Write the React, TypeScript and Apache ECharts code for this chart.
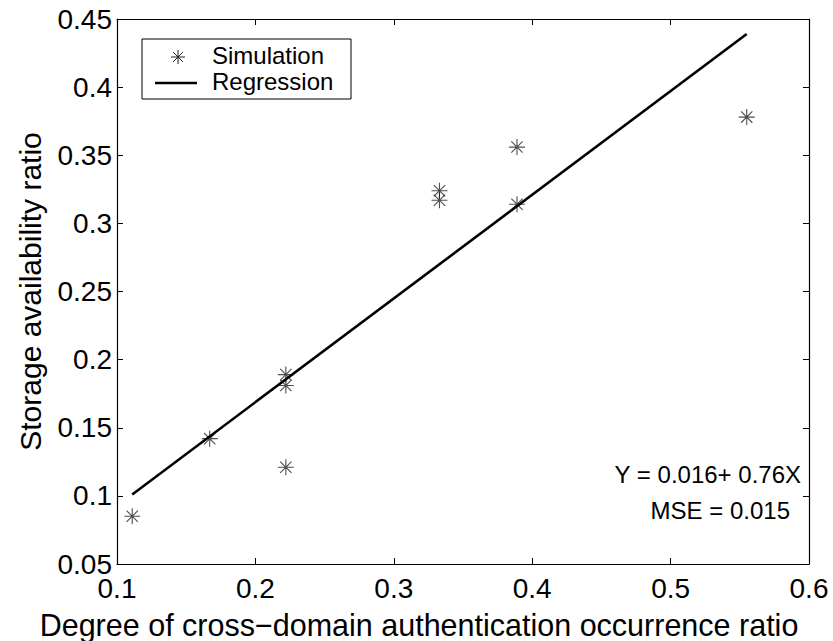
import React, { useEffect, useRef } from "react";
import * as echarts from "echarts";

const FONT = "'Liberation Sans', Arial, Helvetica, sans-serif";

// Simulation points (x, y)
const simX = [0.111, 0.167, 0.222, 0.222, 0.222, 0.333, 0.333, 0.389, 0.389, 0.555];
const simY = [0.085, 0.142, 0.189, 0.181, 0.121, 0.324, 0.317, 0.356, 0.314, 0.378];

// Regression line end points
const regX = [0.111, 0.555];
const regY = [0.101, 0.439];

const xTicks = { min: 0.1, max: 0.6, interval: 0.1 };
const yTicks = { min: 0.05, max: 0.45, interval: 0.05 };

const legendLabels = ["Simulation", "Regression"];
const annotations = ["Y = 0.016+ 0.76X", "MSE = 0.015"];
const xTitle = "Degree of cross\u2212domain authentication occurrence ratio";
const yTitle = "Storage availability ratio";

const ASTERISK = "path://M0 -10 L0 10 M-10 0 L10 0 M-7.07 -7.07 L7.07 7.07 M-7.07 7.07 L7.07 -7.07";

export default function App() {
  const ref = useRef<HTMLDivElement>(null);
  useEffect(() => {
    document.body.style.margin = "0";
    const chart = echarts.init(ref.current!, undefined, { renderer: "svg" });
    const fmt = (v: number) => String(+v.toFixed(2));
    const axisCommon = {
      type: "value" as const,
      axisLine: { show: true, lineStyle: { color: "#000", width: 1.2 } },
      axisTick: { show: true, inside: true, length: 6, lineStyle: { color: "#000", width: 1 } },
      splitLine: { show: false },
    };
    const lx = 142, ly = 39;
    const star = (cx: number, cy: number, r: number) => [
      { type: "line", shape: { x1: cx, y1: cy - r, x2: cx, y2: cy + r }, style: { stroke: "#222", lineWidth: 1 } },
      { type: "line", shape: { x1: cx - r, y1: cy, x2: cx + r, y2: cy }, style: { stroke: "#222", lineWidth: 1 } },
      { type: "line", shape: { x1: cx - r * 0.707, y1: cy - r * 0.707, x2: cx + r * 0.707, y2: cy + r * 0.707 }, style: { stroke: "#222", lineWidth: 1 } },
      { type: "line", shape: { x1: cx - r * 0.707, y1: cy + r * 0.707, x2: cx + r * 0.707, y2: cy - r * 0.707 }, style: { stroke: "#222", lineWidth: 1 } },
    ];
    chart.setOption({
      animation: false,
      backgroundColor: "#fff",
      grid: { left: 117, top: 19, right: 24, bottom: 77, containLabel: false },
      xAxis: [
        {
          ...axisCommon,
          position: "bottom",
          min: xTicks.min,
          max: xTicks.max,
          interval: xTicks.interval,
          axisLabel: { color: "#000", fontSize: 28, fontFamily: FONT, margin: 10, formatter: fmt },
        },
        {
          ...axisCommon,
          position: "top",
          min: xTicks.min,
          max: xTicks.max,
          interval: xTicks.interval,
          axisLabel: { show: false },
        },
      ],
      yAxis: [
        {
          ...axisCommon,
          position: "left",
          min: yTicks.min,
          max: yTicks.max,
          interval: yTicks.interval,
          axisLabel: { color: "#000", fontSize: 28, fontFamily: FONT, margin: 5, formatter: fmt },
          name: yTitle,
          nameLocation: "middle",
          nameGap: 72,
          nameTextStyle: { color: "#000", fontSize: 30, fontFamily: FONT },
        },
        {
          ...axisCommon,
          position: "right",
          min: yTicks.min,
          max: yTicks.max,
          interval: yTicks.interval,
          axisLabel: { show: false },
        },
      ],
      series: [
        {
          name: legendLabels[0],
          type: "scatter",
          data: simX.map((x, i) => [x, simY[i]]),
          symbol: ASTERISK,
          symbolSize: 16,
          itemStyle: { color: "none", borderColor: "#222", borderWidth: 1.1 },
        },
        {
          name: legendLabels[1],
          type: "line",
          data: regX.map((x, i) => [x, regY[i]]),
          symbol: "none",
          lineStyle: { color: "#000", width: 2.6 },
        },
      ],
      graphic: [
        {
          type: "rect",
          shape: { x: lx, y: ly, width: 209, height: 60 },
          style: { fill: "#fff", stroke: "#000", lineWidth: 1 },
          z: 100,
        },
        ...star(178, 57, 7).map((e) => ({ ...e, z: 101 })),
        {
          type: "line",
          shape: { x1: 155, y1: 83, x2: 197, y2: 83 },
          style: { stroke: "#000", lineWidth: 2.6 },
          z: 101,
        },
        {
          type: "text",
          x: 212,
          y: 55,
          style: { text: legendLabels[0], font: `24px ${FONT}`, fill: "#000", verticalAlign: "middle", align: "left" },
          z: 101,
        },
        {
          type: "text",
          x: 212,
          y: 81,
          style: { text: legendLabels[1], font: `24px ${FONT}`, fill: "#000", verticalAlign: "middle", align: "left" },
          z: 101,
        },
        {
          type: "text",
          x: 801,
          y: 474,
          style: { text: annotations[0], font: `24px ${FONT}`, fill: "#000", verticalAlign: "middle", align: "right" },
        },
        {
          type: "text",
          x: 790,
          y: 510,
          style: { text: annotations[1], font: `24px ${FONT}`, fill: "#000", verticalAlign: "middle", align: "right" },
        },
        {
          type: "text",
          x: 419,
          y: 625,
          style: { text: xTitle, font: `30.5px ${FONT}`, fill: "#000", verticalAlign: "middle", align: "center" },
        },
      ],
    });
    return () => chart.dispose();
  }, []);
  return <div ref={ref} style={{ width: 833, height: 641 }} />;
}
